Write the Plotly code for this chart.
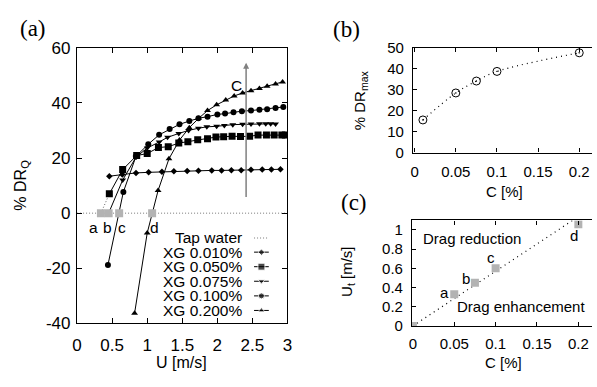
import plotly.graph_objects as go

# ---------------- data ----------------
# panel (a): % DR_Q vs U [m/s]
tap_u = [0.0, 3.0]
tap_dr = [0.0, 0.0]

u_010 = [0.46, 0.645, 0.84, 1.02, 1.21, 1.38, 1.57, 1.73, 1.92, 2.06, 2.20, 2.34, 2.48, 2.64, 2.77, 2.90]
dr_010 = [13.4, 14.0, 14.6, 14.8, 15.0, 15.2, 15.3, 15.4, 15.5, 15.5, 15.6, 15.6, 15.7, 15.8, 15.8, 15.9]

u_050 = [0.46, 0.65, 0.85, 1.00, 1.16, 1.30, 1.45, 1.58, 1.72, 1.86, 1.98, 2.09, 2.21, 2.33, 2.46, 2.58, 2.70, 2.81, 2.92, 2.97]
dr_050 = [7.0, 15.8, 20.9, 21.6, 23.8, 24.1, 25.4, 25.9, 26.6, 27.0, 27.6, 27.7, 27.9, 27.8, 27.9, 28.3, 28.3, 28.3, 28.3, 28.3]

u_075 = [0.45, 0.65, 0.84, 1.00, 1.17, 1.29, 1.45, 1.59, 1.73, 1.85, 1.99, 2.10, 2.22, 2.36, 2.48, 2.60, 2.69, 2.76, 2.83]
dr_075 = [0.0, 12.0, 20.3, 23.6, 25.8, 27.5, 28.9, 30.0, 30.8, 31.3, 31.5, 31.8, 32.1, 32.2, 32.3, 32.4, 32.4, 32.4, 32.3]

u_100 = [0.44, 0.66, 0.84, 1.015, 1.17, 1.32, 1.46, 1.60, 1.73, 1.86, 2.00, 2.11, 2.23, 2.35, 2.48, 2.60, 2.71, 2.83, 2.94]
dr_100 = [-18.8, 7.7, 20.6, 25.0, 28.4, 30.5, 32.2, 33.4, 34.4, 35.0, 35.8, 36.1, 36.6, 37.0, 37.2, 37.5, 37.7, 38.1, 38.5]

u_200 = [0.82, 1.00, 1.155, 1.31, 1.46, 1.60, 1.73, 1.86, 1.99, 2.12, 2.24, 2.36, 2.48, 2.60, 2.71, 2.83, 2.93]
dr_200 = [-36.3, -7.2, 8.2, 19.7, 26.5, 31.0, 34.3, 37.2, 39.3, 41.0, 42.5, 43.6, 44.4, 45.2, 46.0, 46.8, 47.6]

trans_u = [0.34, 0.45, 0.60, 1.07]
trans_dr = [0.0, 0.0, 0.0, 0.0]
trans_labels = ["a", "b", "c", "d"]

series_names = ["XG 0.010%", "XG 0.050%", "XG 0.075%", "XG 0.100%", "XG 0.200%"]
a_yticks = [-40, -20, 0, 20, 40, 60]

# panel (b): % DR_max vs C
b_c = [0.01, 0.05, 0.075, 0.1, 0.2]
b_dr = [15.6, 28.5, 34.2, 38.8, 47.7]

# panel (c): U_t vs C
c_c = [0.0, 0.05, 0.075, 0.1, 0.2]
c_u = [0.0, 0.33, 0.45, 0.60, 1.06]
c_labels = ["", "a", "b", "c", "d"]
fit_c = [0.0, 0.193]
fit_u = [0.0, 1.10]

# ---------------- layout helpers ----------------
W, H = 597, 387
FONT = "Liberation Sans, Arial, Helvetica, sans-serif"
SERIF = "Liberation Serif, Times New Roman, serif"
GRAY = "#b3b3b3"
DOTS = "1px,4px"


def fx(p):
    return p / W


def fy(p):
    return 1 - p / H


styles = {
    "XG 0.010%": dict(symbol="diamond", size=5),
    "XG 0.050%": dict(symbol="square", size=7),
    "XG 0.075%": dict(symbol="triangle-down", size=6),
    "XG 0.100%": dict(symbol="circle", size=6),
    "XG 0.200%": dict(symbol="triangle-up", size=6),
}

fig = go.Figure()

# tap water reference
fig.add_trace(go.Scatter(x=tap_u, y=tap_dr, mode="lines",
                         line=dict(color="#a6a6a6", width=1.5, dash="1px,2px"),
                         xaxis="x", yaxis="y", hoverinfo="skip"))
# dotted link from a to first 0.050% point
fig.add_trace(go.Scatter(x=[trans_u[0], u_050[0]], y=[trans_dr[0], dr_050[0]], mode="lines",
                         line=dict(color="#666666", width=1, dash="1px,2px"),
                         xaxis="x", yaxis="y", hoverinfo="skip"))

for name, u, dr in zip(series_names, [u_010, u_050, u_075, u_100, u_200],
                       [dr_010, dr_050, dr_075, dr_100, dr_200]):
    st = styles[name]
    fig.add_trace(go.Scatter(x=u, y=dr, mode="lines+markers", name=name,
                             line=dict(color="black", width=1),
                             marker=dict(symbol=st["symbol"], size=st["size"], color="black"),
                             xaxis="x", yaxis="y"))

fig.add_trace(go.Scatter(x=trans_u, y=trans_dr, mode="markers",
                         marker=dict(symbol="square", size=8, color=GRAY),
                         xaxis="x", yaxis="y"))

# panel (b)
fig.add_trace(go.Scatter(x=b_c, y=b_dr, mode="lines",
                         line=dict(color="black", width=1.2, dash=DOTS, shape="spline"),
                         xaxis="x2", yaxis="y2", hoverinfo="skip"))
fig.add_trace(go.Scatter(x=b_c, y=b_dr, mode="markers",
                         marker=dict(symbol="circle-open-dot", size=8, color="black",
                                     line=dict(width=1)),
                         xaxis="x2", yaxis="y2"))

# panel (c)
fig.add_trace(go.Scatter(x=fit_c, y=fit_u, mode="lines",
                         line=dict(color="black", width=1.2, dash=DOTS),
                         xaxis="x3", yaxis="y3"))
fig.add_trace(go.Scatter(x=c_c, y=c_u, mode="markers",
                         marker=dict(symbol="square", size=8, color=GRAY),
                         xaxis="x3", yaxis="y3"))

# custom legend (full-page pixel axes)
leg_rows = [240.7, 255.7, 271.0, 286.3, 301.7, 317.0]
leg_text_x = 242.7
leg_x0, leg_x1 = 253.3, 268.3
fig.add_trace(go.Scatter(x=[leg_x0, leg_x1], y=[leg_rows[0]] * 2, mode="lines",
                         line=dict(color="#a6a6a6", width=1.5, dash="1px,2px"),
                         xaxis="x4", yaxis="y4", hoverinfo="skip"))
for i, name in enumerate(series_names):
    st = styles[name]
    yy = leg_rows[i + 1]
    fig.add_trace(go.Scatter(x=[leg_x0, (leg_x0 + leg_x1) / 2, leg_x1], y=[yy] * 3,
                             mode="lines+markers",
                             line=dict(color="black", width=1),
                             marker=dict(symbol=st["symbol"], size=[0, st["size"], 0],
                                         color="black"),
                             xaxis="x4", yaxis="y4", hoverinfo="skip"))


def txt(px, py, t, size=15, family=FONT, xanchor="center", yanchor="middle", **kw):
    d = dict(x=fx(px), y=fy(py), xref="paper", yref="paper", text=t, showarrow=False,
             xanchor=xanchor, yanchor=yanchor,
             font=dict(family=family, size=size, color="black"))
    d.update(kw)
    return d


annotations = []
for i, t in enumerate(["Tap water"] + series_names):
    annotations.append(txt(leg_text_x, leg_rows[i], t, size=15.5, xanchor="right"))

# a b c d labels in panel (a)
label_u = [0.24, 0.43, 0.64, 1.10]
for lab, lu in zip(trans_labels, label_u):
    annotations.append(dict(x=lu, y=-5.3, xref="x", yref="y", text=lab, showarrow=False,
                            xanchor="center", yanchor="middle",
                            font=dict(family=FONT, size=15.5, color="black")))

# arrow C
annotations.append(dict(x=2.41, y=54.5, ax=2.41, ay=5.3, xref="x", yref="y",
                        axref="x", ayref="y", text="", showarrow=True,
                        arrowhead=2, arrowsize=0.8, arrowwidth=1.5, arrowcolor="#808080"))
annotations.append(dict(x=2.27, y=46.4, xref="x", yref="y", text="C", showarrow=False,
                        xanchor="center", yanchor="middle",
                        font=dict(family=FONT, size=15.5, color="black")))

# panel (c) labels
c_lab_pos = [(446.7, 298.3), (469.0, 283.3), (494.3, 261.7), (578.3, 237.7)]
for lab, (px, py) in zip(c_labels[1:], c_lab_pos):
    annotations.append(txt(px, py, lab, size=15))
annotations.append(txt(422.7, 241.7, "Drag reduction", size=15, xanchor="left"))
annotations.append(txt(592, 313.3, "Drag enhancement", size=15, xanchor="right"))

# panel letters
for t, px, py in [("(a)", 28, 21), ("(b)", 347, 22), ("(c)", 355, 203)]:
    annotations.append(txt(px, py, t, size=23, family=SERIF))

# axis titles
annotations.append(txt(17, 185, "% DR<sub>Q</sub>", size=16, textangle=-90))
annotations.append(txt(180, 371.7, "U [m/s]", size=16))
annotations.append(txt(361, 96, "% DR<sub>max</sub>", size=15, textangle=-90))
annotations.append(txt(508, 191.7, "C [%]", size=15))
annotations.append(txt(348.3, 276, "U<sub>t</sub> [m/s]", size=15, textangle=-90))
annotations.append(txt(506.7, 371.7, "C [%]", size=15))

axis_common = dict(showline=True, linecolor="black", linewidth=1.3, showgrid=False,
                   zeroline=False, ticks="inside", tickcolor="black", tickwidth=1,
                   fixedrange=True)
fa = dict(family=FONT, size=17, color="black")
fb = dict(family=FONT, size=15, color="black")

fig.update_layout(
    width=W, height=H, margin=dict(l=0, r=0, t=0, b=0),
    paper_bgcolor="white", plot_bgcolor="rgba(0,0,0,0)", showlegend=False,
    xaxis=dict(domain=[fx(73.3), fx(287.3)], range=[0, 3], dtick=0.5, ticklen=5,
               mirror="allticks", anchor="y", tickfont=fa, ticklabelstandoff=6,
               **axis_common),
    yaxis=dict(domain=[fy(330.7), fy(40.7)], range=[-40, 60], ticklen=5,
               tickmode="array", tickvals=a_yticks, ticktext=[str(v) for v in a_yticks],
               mirror="allticks", anchor="x", tickfont=fa, ticklabelstandoff=2,
               **axis_common),
    xaxis2=dict(domain=[fx(415), 1.0], range=[-0.002, 0.2155], dtick=0.05, ticklen=4,
                mirror="allticks", anchor="y2", tickfont=fb, ticklabelstandoff=5,
                **axis_common),
    yaxis2=dict(domain=[fy(151), fy(41)], range=[0, 50], dtick=10, ticklen=4,
                mirror=False, anchor="x2", tickfont=fb, ticklabelstandoff=5,
                **axis_common),
    xaxis3=dict(domain=[fx(414), 1.0], range=[-0.001, 0.2165], dtick=0.05, ticklen=4,
                mirror="allticks", anchor="y3", tickfont=fb, ticklabelstandoff=4,
                **axis_common),
    yaxis3=dict(domain=[fy(333.3), fy(222.3)], range=[0, 1.1], dtick=0.2, ticklen=4,
                mirror=False, anchor="x3", tickfont=fb, ticklabelstandoff=5,
                **axis_common),
    xaxis4=dict(domain=[0, 1], range=[0, W], visible=False, fixedrange=True, anchor="y4"),
    yaxis4=dict(domain=[0, 1], range=[H, 0], visible=False, fixedrange=True, anchor="x4"),
    annotations=annotations,
)

fig.write_html("out.html", config={"displayModeBar": False})
